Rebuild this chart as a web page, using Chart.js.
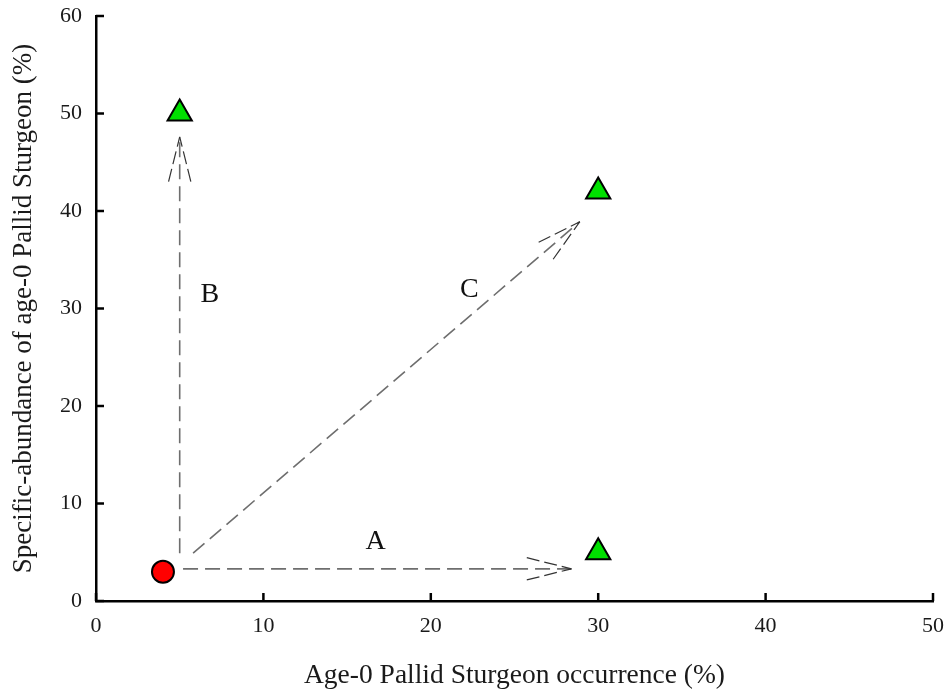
<!DOCTYPE html>
<html>
<head>
<meta charset="utf-8">
<script src="https://cdn.jsdelivr.net/npm/chart.js@4.4.1/dist/chart.umd.min.js"></script>
<style>
html,body{margin:0;padding:0;background:#fff;}
#wrap{width:945px;height:692px;}
</style>
</head>
<body>
<div id="wrap"><canvas id="c" width="945" height="692"></canvas></div>
<script>
// Data
const baselinePoint = [{x: 4, y: 3}];
const outcomePoints = [{x: 5, y: 50}, {x: 30, y: 42}, {x: 30, y: 5}];
const arrowNames = ['A', 'B', 'C'];
const arrowFromX = [5.2, 5.0, 5.8];
const arrowFromY = [3.3, 4.9, 4.9];
const arrowToX = [28.4, 5.0, 28.9];
const arrowToY = [3.3, 47.6, 38.9];
const labelX = [16.7, 6.8, 22.3];
const labelY = [6.1, 31.4, 31.9];
const xTicks = [0, 10, 20, 30, 40, 50];
const yTicks = [0, 10, 20, 30, 40, 50, 60];

const serif = '"Liberation Serif", "Times New Roman", serif';

const arrowDatasets = arrowNames.map((n, i) => ({
  type: 'scatter',
  label: 'Arrow ' + n,
  data: [{x: arrowFromX[i], y: arrowFromY[i]}, {x: arrowToX[i], y: arrowToY[i]}],
  showLine: true,
  borderColor: '#6e6e6e',
  borderWidth: 1.6,
  borderDash: [15, 7],
  pointRadius: 0,
  fill: false,
  order: 5
}));

const decorPlugin = {
  id: 'decor',
  afterDatasetsDraw(chart) {
    const {ctx, scales: {x, y}} = chart;
    ctx.save();
    // arrowheads
    ctx.strokeStyle = '#333';
    ctx.lineWidth = 1.2;
    ctx.setLineDash([13, 5]);
    const len = 46, ang = 14 * Math.PI / 180;
    for (let i = 0; i < arrowNames.length; i++) {
      const x0 = x.getPixelForValue(arrowFromX[i]), y0 = y.getPixelForValue(arrowFromY[i]);
      const x1 = x.getPixelForValue(arrowToX[i]), y1 = y.getPixelForValue(arrowToY[i]);
      const a = Math.atan2(y0 - y1, x0 - x1);
      [a + ang, a - ang].forEach(t => {
        ctx.beginPath();
        ctx.moveTo(x1 + Math.cos(t) * len, y1 + Math.sin(t) * len);
        ctx.lineTo(x1, y1);
        ctx.stroke();
      });
    }
    ctx.setLineDash([]);
    // labels
    ctx.fillStyle = '#111';
    ctx.font = '28px ' + serif;
    ctx.textAlign = 'center';
    ctx.textBaseline = 'middle';
    for (let i = 0; i < arrowNames.length; i++) {
      ctx.fillText(arrowNames[i], x.getPixelForValue(labelX[i]), y.getPixelForValue(labelY[i]));
    }
    // inward ticks
    ctx.strokeStyle = '#000';
    ctx.lineWidth = 2.5;
    const tl = 8;
    xTicks.forEach(v => {
      const px = x.getPixelForValue(v);
      ctx.beginPath(); ctx.moveTo(px, y.bottom); ctx.lineTo(px, y.bottom - tl); ctx.stroke();
    });
    yTicks.forEach(v => {
      const py = y.getPixelForValue(v);
      ctx.beginPath(); ctx.moveTo(x.left, py); ctx.lineTo(x.left + tl, py); ctx.stroke();
    });
    ctx.restore();
  }
};

new Chart(document.getElementById('c'), {
  type: 'scatter',
  data: {
    datasets: [
      {
        label: 'Baseline',
        data: baselinePoint,
        pointStyle: 'circle',
        pointRadius: 11,
        pointHoverRadius: 11,
        backgroundColor: '#ff0000',
        borderColor: '#000',
        borderWidth: 2,
        order: 1
      },
      {
        label: 'Outcomes',
        data: outcomePoints,
        pointStyle: 'triangle',
        pointRadius: 14,
        pointHoverRadius: 14,
        backgroundColor: '#00e000',
        borderColor: '#000',
        borderWidth: 2,
        order: 1
      },
      ...arrowDatasets
    ]
  },
  options: {
    responsive: false,
    animation: false,
    events: [],
    layout: {autoPadding: false, padding: {left: 0, top: 16, right: 12, bottom: 0}},
    plugins: {legend: {display: false}, tooltip: {enabled: false}},
    scales: {
      x: {
        type: 'linear', min: 0, max: 50,
        afterBuildTicks: s => { s.ticks = xTicks.map(v => ({value: v})); },
        afterFit: s => { s.height = 91; s.paddingLeft = 0; s.paddingRight = 0; },
        grid: {display: true, drawOnChartArea: false, drawTicks: false},
        border: {display: true, color: '#000', width: 2.5},
        ticks: {color: '#1a1a1a', font: {family: serif, size: 22}, padding: 12, maxRotation: 0},
        title: {display: true, text: 'Age-0 Pallid Sturgeon occurrence (%)', color: '#1a1a1a',
          font: {family: serif, size: 27.5}, padding: {top: 14, bottom: 0}}
      },
      y: {
        type: 'linear', min: 0, max: 60,
        afterBuildTicks: s => { s.ticks = yTicks.map(v => ({value: v})); },
        afterFit: s => { s.width = 96; s.paddingTop = 0; s.paddingBottom = 0; },
        grid: {display: true, drawOnChartArea: false, drawTicks: false},
        border: {display: true, color: '#000', width: 2.5},
        ticks: {color: '#1a1a1a', font: {family: serif, size: 22}, padding: 14},
        title: {display: true, text: 'Specific-abundance of age-0 Pallid Sturgeon (%)', color: '#1a1a1a',
          font: {family: serif, size: 27}, padding: {top: 8, bottom: 0}}
      }
    }
  },
  plugins: [decorPlugin]
});
</script>
</body>
</html>
